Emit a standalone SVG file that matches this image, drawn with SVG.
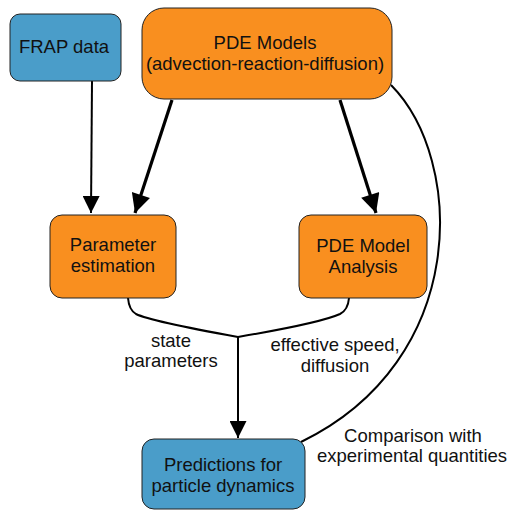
<svg xmlns="http://www.w3.org/2000/svg" width="513" height="512" viewBox="0 0 513 512">
  <style>
    .blue { fill: #4a9dc9; stroke: #222; stroke-width: 1; }
    .orange { fill: #f98f1f; stroke: #222; stroke-width: 1; }
    text { font-family: "Liberation Sans", Arial, Helvetica, sans-serif; font-size: 18.5px; fill: #111; text-anchor: middle; }
    .edge { fill: none; stroke: #000; stroke-width: 2; }
    .thick { fill: none; stroke: #000; stroke-width: 3.2; }
  </style>
  <defs>
    <marker id="head" viewBox="0 0 10 10" refX="10" refY="5" markerWidth="20" markerHeight="17" markerUnits="userSpaceOnUse" orient="auto">
      <path d="M0,0 L10,5 L0,10 Z" fill="#000"/>
    </marker>
    <marker id="headBig" viewBox="0 0 10 10" refX="10" refY="5" markerWidth="26" markerHeight="19" markerUnits="userSpaceOnUse" orient="auto">
      <path d="M0,0 L10,5 L0,10 Z" fill="#000"/>
    </marker>
  </defs>

  <g id="connectors">
    <path class="edge" d="M92,81 L91,213" marker-end="url(#head)"/>
    <path class="thick" d="M172,100 L135,213" marker-end="url(#headBig)"/>
    <path class="thick" d="M340,100 L376,213" marker-end="url(#headBig)"/>
    <path class="edge" d="M128,298 Q129,310 136,314 Q150,321 238,337"/>
    <path class="edge" d="M349,298 Q348,310 340,314 Q320,323 238,337"/>
    <path class="edge" d="M238,337 L238,438" marker-end="url(#head)"/>
    <path class="edge" d="M391,85 C465,160 470,360 301,442"/>
  </g>

  <g id="frap">
    <rect class="blue" x="10" y="14" width="111" height="67" rx="10"/>
    <text x="64" y="53">FRAP data</text>
  </g>

  <g id="pde-models">
    <rect class="orange" x="142" y="8" width="250" height="91" rx="22"/>
    <text x="265" y="49">PDE Models</text>
    <text x="265" y="70">(advection-reaction-diffusion)</text>
  </g>

  <g id="parameter-estimation">
    <rect class="orange" x="50" y="215" width="126" height="83" rx="12"/>
    <text x="113" y="251">Parameter</text>
    <text x="113" y="272">estimation</text>
  </g>

  <g id="pde-analysis">
    <rect class="orange" x="299" y="215" width="128" height="83" rx="12"/>
    <text x="363" y="252">PDE Model</text>
    <text x="363" y="273">Analysis</text>
  </g>

  <g id="predictions">
    <rect class="blue" x="142" y="439" width="163" height="70" rx="12"/>
    <text x="223" y="471">Predictions for</text>
    <text x="223" y="492">particle dynamics</text>
  </g>

  <g id="labels">
    <text x="171" y="347">state</text>
    <text x="171" y="367">parameters</text>
    <text x="335" y="351">effective speed,</text>
    <text x="335" y="372">diffusion</text>
    <text x="413" y="442">Comparison with</text>
    <text x="412" y="462">experimental quantities</text>
  </g>
</svg>
